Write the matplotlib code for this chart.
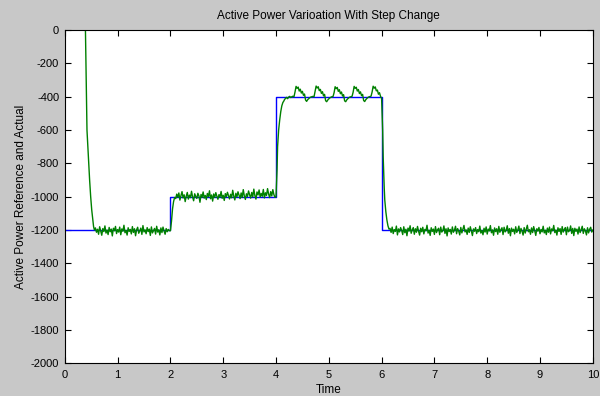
import numpy as np
import matplotlib
matplotlib.use("Agg")
import matplotlib.pyplot as plt

plt.rcParams['font.family'] = ['Liberation Sans', 'DejaVu Sans']
plt.rcParams['axes.unicode_minus'] = False

# Reference (blue step signal)
ref_t = [0, 2, 4, 6, 10]
ref_p = [-1200, -1000, -400, -1200, -1200]

# Actual (green) - transient at start
tA = [0.37, 0.39, 0.40, 0.41, 0.42, 0.44, 0.455, 0.47, 0.49, 0.51, 0.53, 0.545, 0.56]
pA = [150, 20, -200, -420, -600, -720, -800, -900, -1000, -1080, -1140, -1180, -1200]

# noise around -1200 (0.58 .. 1.98)
pB = [-1188,-1214,-1196,-1226,-1181,-1207,-1232,-1192,-1210,-1176,
      -1219,-1201,-1228,-1185,-1211,-1195,-1236,-1190,-1205,-1179,
      -1222,-1198,-1213,-1183,-1229,-1194,-1208,-1172,-1217,-1203,
      -1231,-1187,-1209,-1197,-1224,-1180,-1215,-1193,-1235,-1199,
      -1184,-1220,-1206,-1189,-1227,-1174,-1212,-1200,-1223,-1186,
      -1210,-1195,-1233,-1182,-1218,-1204,-1191,-1225,-1178,-1213,
      -1199,-1230,-1188,-1216,-1183,-1207,-1226,-1192,-1211,-1197,-1205]

# step to -1000
tC = [2.00, 2.02, 2.04, 2.06, 2.08]
pC = [-1205, -1150, -1075, -1030, -1005]

# noise around -1000 (2.10 .. 3.98)
pD = [-1012,-985,-1003,-978,-1021,-994,-970,-1008,-989,-1030,
      -997,-975,-1015,-991,-1006,-968,-1002,-1025,-983,-999,
      -1011,-980,-996,-1034,-987,-1004,-972,-1009,-993,-1018,
      -981,-1000,-965,-1013,-990,-1027,-984,-1005,-976,-998,
      -1016,-988,-1003,-969,-1010,-992,-1023,-982,-1001,-974,
      -995,-1014,-986,-1007,-962,-997,-1020,-980,-1002,-971,
      -991,-1012,-978,-1005,-958,-996,-1017,-983,-999,-966,
      -989,-1009,-975,-1001,-955,-994,-1015,-972,-990,-960,
      -1003,-981,-998,-957,-1008,-977,-993,-952,-985,-1006,
      -970,-996,-958,-988,-1004]

# step to -400
tE = [4.00, 4.01, 4.02, 4.03, 4.05, 4.07, 4.09, 4.11, 4.13, 4.15]
pE = [-1000, -920, -840, -700, -600, -540, -490, -455, -435, -425]

# ripple around -400 (4.16 .. 5.98)
pF = [-418,-410,-404,-412,-402,-398,-405,-400,-397,-401,
      -372,-338,-350,-342,-366,-355,-378,-368,-392,-384,
      -420,-428,-418,-412,-406,-402,-400,-398,-401,-370,
      -336,-348,-340,-364,-356,-380,-370,-395,-386,-424,
      -430,-420,-413,-407,-403,-400,-399,-376,-340,-352,
      -344,-368,-358,-382,-372,-396,-388,-425,-430,-419,
      -412,-406,-402,-400,-398,-374,-338,-350,-343,-366,
      -357,-381,-371,-394,-386,-423,-429,-418,-411,-405,
      -401,-399,-397,-372,-337,-349,-341,-365,-360,-385,
      -376,-398]

# step down to -1200
tG = [6.00, 6.02, 6.03, 6.05, 6.06, 6.08, 6.10, 6.12, 6.14]
pG = [-410, -600, -760, -950, -1020, -1090, -1140, -1175, -1195]

# noise around -1200 (6.16 .. 10.0)
pH = [-1191,-1215,-1183,-1222,-1198,-1209,-1177,-1230,-1194,-1212,
      -1186,-1203,-1228,-1181,-1217,-1196,-1235,-1189,-1207,-1175,
      -1220,-1200,-1186,-1226,-1193,-1214,-1179,-1208,-1231,-1190,
      -1211,-1184,-1224,-1197,-1205,-1172,-1219,-1202,-1233,-1187,
      -1209,-1195,-1227,-1180,-1216,-1199,-1190,-1229,-1183,-1213,
      -1204,-1176,-1221,-1193,-1236,-1188,-1210,-1197,-1225,-1182,
      -1214,-1201,-1178,-1223,-1192,-1207,-1230,-1185,-1218,-1196,
      -1173,-1212,-1200,-1227,-1189,-1215,-1181,-1206,-1234,-1194,
      -1208,-1186,-1222,-1198,-1211,-1177,-1219,-1203,-1229,-1190,
      -1213,-1182,-1225,-1195,-1206,-1174,-1217,-1200,-1232,-1188,
      -1210,-1193,-1226,-1179,-1214,-1198,-1187,-1228,-1184,-1212,
      -1202,-1175,-1220,-1192,-1235,-1189,-1209,-1196,-1224,-1181,
      -1215,-1200,-1177,-1222,-1191,-1208,-1231,-1186,-1219,-1195,
      -1172,-1211,-1199,-1226,-1188,-1216,-1180,-1205,-1233,-1193,
      -1207,-1185,-1223,-1197,-1212,-1178,-1218,-1202,-1228,-1189,
      -1214,-1183,-1224,-1194,-1205,-1173,-1216,-1201,-1231,-1187,
      -1209,-1192,-1227,-1180,-1213,-1197,-1186,-1229,-1183,-1211,
      -1203,-1176,-1221,-1191,-1234,-1190,-1208,-1195,-1225,-1182,
      -1216,-1199,-1178,-1221,-1193,-1206,-1230,-1187,-1218,-1196,
      -1184,-1213,-1201]

tB = np.linspace(0.58, 1.98, len(pB))
tD = np.linspace(2.10, 3.98, len(pD))
tF = np.linspace(4.16, 5.98, len(pF))
tH = np.linspace(6.16, 10.0, len(pH))

act_t = np.concatenate([tA, tB, tC, tD, tE, tF, tG, tH])
act_p = np.concatenate([pA, pB, pC, pD, pE, pF, pG, pH])

fig = plt.figure(figsize=(6.0, 3.96), dpi=100, facecolor='#c8c8c8')
ax = fig.add_axes([0.108, 0.083, 0.880, 0.841])
ax.set_facecolor('white')

ax.plot(ref_t, ref_p, drawstyle='steps-post', color='#0000ff', lw=1.0)
ax.plot(act_t, act_p, color='#008000', lw=1.0)

ax.set_xlim(0, 10)
ax.set_ylim(-2000, 0)
ax.set_xticks(np.arange(0, 11, 1))
ax.set_yticks(np.arange(-2000, 1, 200))
ax.tick_params(direction='in', top=True, right=True, length=4, width=0.8,
               labelsize=8, colors='black')
ax.tick_params(axis='x', pad=5)
ax.tick_params(axis='y', pad=4)
for s in ax.spines.values():
    s.set_linewidth(0.8)

ax.set_title('Active Power Varioation With Step Change', fontsize=8.5, pad=8)
ax.set_xlabel('Time', fontsize=8.5, labelpad=3)
ax.set_ylabel('Active Power Reference and Actual', fontsize=8.5, labelpad=3)

fig.savefig('out.png', dpi=100, facecolor=fig.get_facecolor())
